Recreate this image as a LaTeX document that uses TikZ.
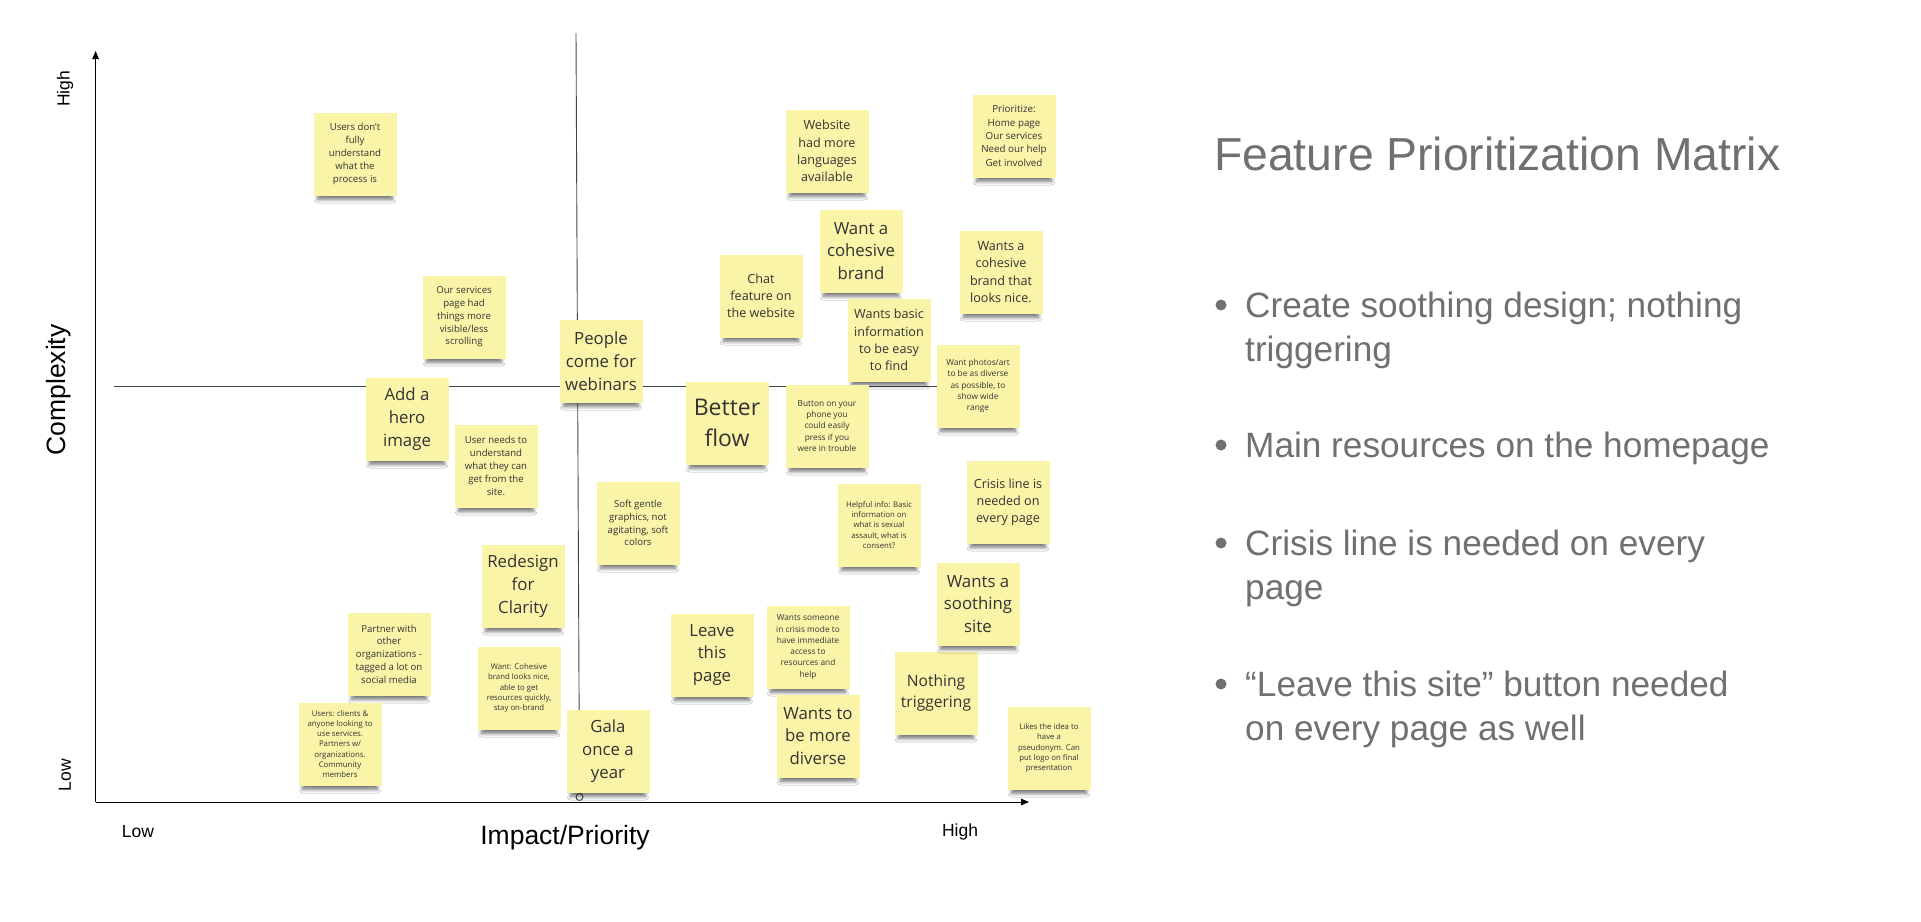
\documentclass[tikz,border=0pt]{standalone}
\usepackage{fontspec}
\setmainfont{Liberation Sans}
\newfontfamily\notefont{Open Sans}
\usetikzlibrary{arrows.meta,shadows.blur}
\definecolor{stickyfill}{HTML}{F9F4A8}
\definecolor{stickytext}{HTML}{333333}
\definecolor{slidegrey}{HTML}{707070}
\definecolor{midline}{HTML}{444444}
\begin{document}
\begin{tikzpicture}[x=1pt,y=-1pt,
  note/.style={fill=stickyfill, minimum width=83pt, minimum height=83pt, inner sep=2pt,
    align=center, text=stickytext,
    blur shadow={shadow xshift=0pt, shadow yshift=-9pt, shadow scale=0.9,
      shadow opacity=55, shadow blur steps=8, shadow blur radius=4pt}},
  fa/.style={font=\notefont\fontsize{7.8}{10.2}\selectfont},
  fb/.style={font=\notefont\fontsize{8.3}{11.3}\selectfont},
  fc/.style={font=\notefont\fontsize{9.6}{12.8}\selectfont},
  fp/.style={font=\notefont\fontsize{9.8}{13.4}\selectfont},
  fd/.style={font=\notefont\fontsize{12.6}{17.2}\selectfont},
  fg/.style={font=\notefont\fontsize{15.6}{20.8}\selectfont},
  fe/.style={font=\notefont\fontsize{16.8}{22.7}\selectfont},
  ff/.style={font=\notefont\fontsize{23}{30.6}\selectfont},
  axis/.style={line width=0.9pt, -{Triangle[length=8pt,width=6.5pt]}},
  quad/.style={midline, line width=0.9pt},
  axlabel/.style={font=\fontsize{26.5}{30}\selectfont},
  endlabel/.style={font=\fontsize{17.5}{20}\selectfont},
  slidetext/.style={text=slidegrey, inner sep=0pt, anchor=west, align=left,
    font=\fontsize{35.2}{44}\selectfont},
  bulletdot/.style={circle, fill=slidegrey, minimum size=11pt, inner sep=0pt}
]
\useasboundingbox (0,0) rectangle (1921,921);
\fill[white] (0,0) rectangle (1921,921);

% axes
\coordinate (O) at (95.6,802);
\coordinate (Ytop) at (95.6,51);
\coordinate (Xend) at (1029,802);
\draw[axis] (O) -- (Ytop);
\draw[axis] (O) -- (Xend);

% quadrant lines
\coordinate (Hl) at (114,386);
\coordinate (Hr) at (950,386);
\coordinate (Vt) at (576,33);
\node[circle, draw=midline, line width=0.9pt, minimum size=7pt, inner sep=0pt] (vend) at (579.5,797) {};
\draw[quad] (Hl) -- (Hr);
\draw[quad] (Vt) -- (vend.north);

% axis labels
\node[endlabel, rotate=90] (yhigh) at (65,89) {High};
\node[endlabel, rotate=90] (ylow) at (65,775) {Low};
\node[axlabel, rotate=90] (ylab) at (59,390) {Complexity};
\node[endlabel] (xlow) at (138,832) {Low};
\node[axlabel] (xlab) at (565,838) {Impact/Priority};
\node[endlabel] (xhigh) at (960,832) {High};

% sticky notes
\node[note,fc] (n1) at (355,154) {Users don’t\\fully\\understand\\what the\\process is};
\node[note,fc] (n2) at (464,317) {Our services\\page had\\things more\\visible/less\\scrolling};
\node[note,fe] (n3) at (601,361) {People\\come for\\webinars};
\node[note,fe] (n4) at (407,419) {Add a\\hero\\image};
\node[note,fc] (n5) at (496,466) {User needs to\\understand\\what they can\\get from the\\site.};
\node[note,fe] (n6) at (523,586) {Redesign\\for\\Clarity};
\node[note,fc] (n7) at (389,654) {Partner with\\other\\organizations -\\tagged a lot on\\social media};
\node[note,fa] (n8) at (519,688) {Want: Cohesive\\brand looks nice,\\able to get\\resources quickly,\\stay on-brand};
\node[note,fa] (n9) at (340,744) {Users: clients \&\\anyone looking to\\use services.\\Partners w/\\organizations.\\Community\\members};
\node[note,fe] (n10) at (608,751) {Gala\\once a\\year};
\node[note,fc] (n11) at (638,523) {Soft gentle\\graphics, not\\agitating, soft\\colors};
\node[note,fe] (n12) at (712,655) {Leave\\this\\page};
\node[note,ff] (n13) at (727,423) {Better\\flow};
\node[note,fd] (n14) at (761,296) {Chat\\feature on\\the website};
\node[note,fd] (n15) at (827,151) {Website\\had more\\languages\\available};
\node[note,fe] (n16) at (861,251) {Want a\\cohesive\\brand};
\node[note,fd] (n17) at (889,340) {Wants basic\\information\\to be easy\\to find};
\node[note,fb] (n18) at (827,426) {Button on your\\phone you\\could easily\\press if you\\were in trouble};
\node[note,fa] (n19) at (879,525) {Helpful info: Basic\\information on\\what is sexual\\assault, what is\\consent?};
\node[note,fb] (n20) at (808,647) {Wants someone\\in crisis mode to\\have immediate\\access to\\resources and\\help};
\node[note,fe] (n21) at (818,736) {Wants to\\be more\\diverse};
\node[note,fg] (n22) at (936,693) {Nothing\\triggering};
\node[note,fe] (n23) at (978,604) {Wants a\\soothing\\site};
\node[note,fd] (n24) at (1008,502) {Crisis line is\\needed on\\every page};
\node[note,fb] (n25) at (978,386) {Want photos/art\\to be as diverse\\as possible, to\\show wide\\range};
\node[note,fd] (n26) at (1001,272) {Wants a\\cohesive\\brand that\\looks nice.};
\node[note,fp] (n27) at (1014,136) {Prioritize:\\Home page\\Our services\\Need our help\\Get involved};
\node[note,fa] (n28) at (1049,748) {Likes the idea to\\have a\\pseudonym. Can\\put logo on final\\presentation};

% right-hand text
\node[text=slidegrey, inner sep=0pt, anchor=west, font=\fontsize{46.3}{55}\selectfont] (title) at (1214,154) {Feature Prioritization Matrix};
\node[bulletdot] (d1) at (1221,305) {};
\node[slidetext] (b1) at (1245,330.5) {Create soothing design; nothing\\triggering};
\node[bulletdot] (d2) at (1221,445) {};
\node[slidetext] (b2) at (1245,448.6) {Main resources on the homepage};
\node[bulletdot] (d3) at (1221,543) {};
\node[slidetext] (b3) at (1245,568.6) {Crisis line is needed on every\\page};
\node[bulletdot] (d4) at (1221,684) {};
\node[slidetext] (b4) at (1245,709.6) {“Leave this site” button needed\\on every page as well};
\end{tikzpicture}
\end{document}
